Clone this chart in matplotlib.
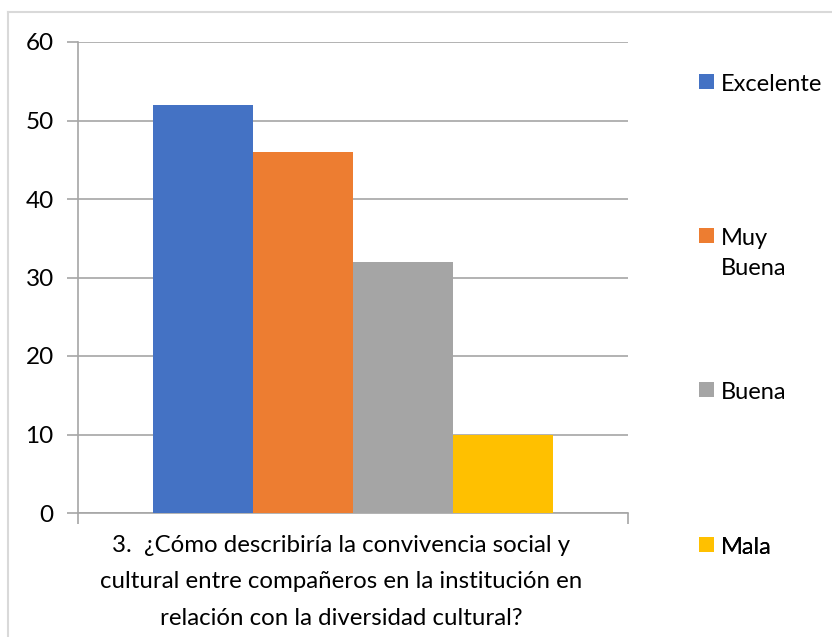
import matplotlib.pyplot as plt
from matplotlib.lines import Line2D

plt.rcParams['font.family'] = ['Lato', 'DejaVu Sans']

# data
categories = ['Excelente', 'Muy\nBuena', 'Buena', 'Mala']
values = [52, 46, 32, 10]
colors = ['#4472C4', '#ED7D31', '#A5A5A5', '#FFC000']
xlabel = ('3.  ¿Cómo describiría la convivencia social y\n'
          'cultural entre compañeros en la institución en\n'
          'relación con la diversidad cultural?')

fig = plt.figure(figsize=(8.32, 6.37), dpi=100)
ax = fig.add_axes([78 / 832, 1 - 513 / 637, 550 / 832, 471 / 637])

# Excel style clustered bars, gap width 150%
n = len(values)
w = 1 / (n + 1.5)
bars = []
for i, (cat, val, col) in enumerate(zip(categories, values, colors)):
    b = ax.bar((i - (n - 1) / 2) * w, val, width=w, color=col, label=cat, zorder=3)
    bars.append(b)

ax.set_xlim(-0.5, 0.5)
ax.set_ylim(0, 60)
ax.set_yticks(range(0, 61, 10))
ax.set_xticks([-0.5, 0.5])
ax.set_xticklabels(['', ''])
ax.grid(axis='y', color='#A6A6A6', linewidth=1.2, zorder=0)
for s in ['top', 'right']:
    ax.spines[s].set_visible(False)
for s in ['left', 'bottom']:
    ax.spines[s].set_color('#A6A6A6')
    ax.spines[s].set_linewidth(1.2)
ax.tick_params(axis='y', length=8, color='#A6A6A6', width=1.2, labelsize=17.5, pad=9.5)
ax.tick_params(axis='x', length=8, color='#A6A6A6', width=1.2)
ax.set_xlabel(xlabel, fontsize=17.3, linespacing=1.9, va='top')
ax.xaxis.set_label_coords((341 - 78) / 550, -22 / 471)

# legend entries spread down the right side, one legend per entry
legend_tops = [0.932, 0.605, 0.278, -0.051]
for b, cat, y in zip(bars, categories, legend_tops):
    leg = ax.legend([b], [cat], loc='upper left', bbox_to_anchor=(1.129, y),
                    frameon=False, fontsize=17, handlelength=0.62, handleheight=0.62,
                    handletextpad=0.3, borderpad=0, borderaxespad=0,
                    )
    for col in leg._legend_handle_box.get_children():
        for item in col.get_children():
            item.align = 'top'
    leg.get_texts()[0].set_linespacing(1.5)
    ax.add_artist(leg)

# outer chart border
fig.add_artist(Line2D([8 / 832, 8 / 832], [0, 1 - 12 / 637], color='#D9D9D9', lw=1.5))
fig.add_artist(Line2D([8 / 832, 1], [1 - 12 / 637, 1 - 12 / 637], color='#D9D9D9', lw=1.5))

fig.savefig('out.png', dpi=100)
